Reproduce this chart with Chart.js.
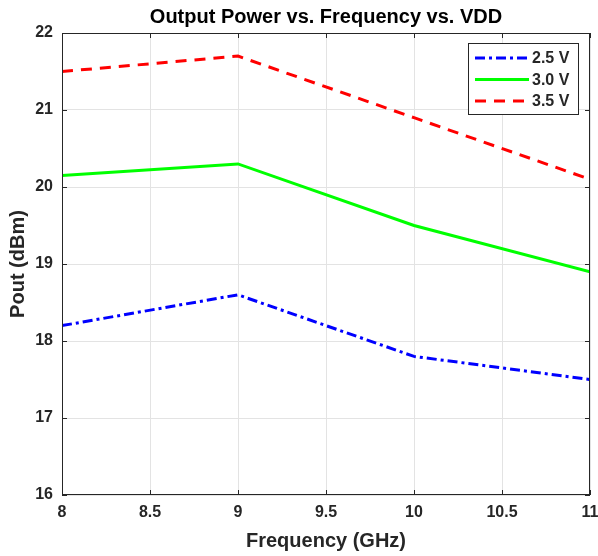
<!DOCTYPE html>
<html>
<head>
<meta charset="utf-8">
<script src="https://cdn.jsdelivr.net/npm/chart.js@4/dist/chart.umd.min.js"></script>
<style>
  html, body { margin: 0; padding: 0; background: #fff; }
  #wrap { width: 598px; height: 556px; }
</style>
</head>
<body>
<div id="wrap"><canvas id="pout"></canvas></div>
<script>
// values
var freqs = [8, 9, 10, 11];
var p25 = [18.2, 18.6, 17.8, 17.5];
var p30 = [20.15, 20.3, 19.5, 18.9];
var p35 = [21.5, 21.7, 20.9, 20.1];
var seriesLabels = ["2.5 V", "3.0 V", "3.5 V"];
var yTicks = [16, 17, 18, 19, 20, 21, 22];
var xTicks = [8, 8.5, 9, 9.5, 10, 10.5, 11];
var chartTitle = "Output Power vs. Frequency vs. VDD";

function pts(vals) {
    var out = [];
    for (var i = 0; i < freqs.length; i++) {
        out.push({x: freqs[i], y: vals[i]});
    }
    return out;
}

var FONT = "'Liberation Sans', Arial, Helvetica, sans-serif";
var txtCol = "#262626";

// title over the plot area, box, inward ticks and the legend, matlab style
var matlabBox = {
    id: "matlabBox",
    afterDraw: function(chart) {
        var ctx = chart.ctx;
        var a = chart.chartArea;
        var xs = chart.scales.x, ys = chart.scales.y;
        ctx.save();
        ctx.fillStyle = "#000";
        ctx.font = "bold 20px " + FONT;
        ctx.textAlign = "center";
        ctx.textBaseline = "middle";
        ctx.fillText(chartTitle, (a.left + a.right) / 2, 17);

        ctx.strokeStyle = "#262626";
        ctx.lineWidth = 1;
        ctx.setLineDash([]);
        ctx.strokeRect(a.left + 0.5, a.top + 0.5, a.right - a.left - 1, a.bottom - a.top - 1);
        ctx.beginPath();
        xTicks.forEach(function(v) {
            var px = Math.round(xs.getPixelForValue(v)) + 0.5;
            ctx.moveTo(px, a.bottom); ctx.lineTo(px, a.bottom - 5);
            ctx.moveTo(px, a.top); ctx.lineTo(px, a.top + 5);
        });
        yTicks.forEach(function(v) {
            var py = Math.round(ys.getPixelForValue(v)) + 0.5;
            ctx.moveTo(a.left, py); ctx.lineTo(a.left + 5, py);
            ctx.moveTo(a.right, py); ctx.lineTo(a.right - 5, py);
        });
        ctx.stroke();

        // legend
        var lx = 468, ly = 43, lw = 110, lh = 71;
        ctx.fillStyle = "#fff";
        ctx.fillRect(lx, ly, lw, lh);
        ctx.strokeStyle = "#262626";
        ctx.strokeRect(lx + 0.5, ly + 0.5, lw, lh);
        ctx.font = "bold 16px " + FONT;
        ctx.textBaseline = "middle";
        ctx.textAlign = "left";
        chart.data.datasets.forEach(function(ds, i) {
            var yy = ly + 15 + i * 21.5;
            ctx.strokeStyle = ds.borderColor;
            ctx.lineWidth = ds.borderWidth;
            ctx.setLineDash(ds.borderDash || []);
            ctx.beginPath();
            ctx.moveTo(lx + 7, yy);
            ctx.lineTo(lx + 61, yy);
            ctx.stroke();
            ctx.setLineDash([]);
            ctx.fillStyle = txtCol;
            ctx.fillText(ds.label, lx + 64, yy + 1);
        });
        ctx.restore();
    }
};

new Chart(document.getElementById("pout"), {
    type: "line",
    data: {
        datasets: [{
            label: seriesLabels[0],
            data: pts(p25),
            borderColor: "#0000ff",
            borderWidth: 3,
            borderDash: [10, 4, 3, 4]
        }, {
            label: seriesLabels[1],
            data: pts(p30),
            borderColor: "#00ff00",
            borderWidth: 3,
            borderDash: []
        }, {
            label: seriesLabels[2],
            data: pts(p35),
            borderColor: "#ff0000",
            borderWidth: 3,
            borderDash: [11, 8]
        }]
    },
    options: {
        responsive: true,
        maintainAspectRatio: false,
        animation: false,
        layout: { padding: { left: 0, right: 0, top: 33, bottom: 0 } },
        elements: { point: { radius: 0 }, line: { tension: 0 } },
        plugins: {
            legend: { display: false },
            tooltip: { enabled: false },
            title: { display: false }
        },
        scales: {
            x: {
                type: "linear",
                min: 8, max: 11,
                afterBuildTicks: function(s) { s.ticks = xTicks.map(function(v) { return {value: v}; }); },
                afterFit: function(s) { s.height = 61; s.paddingRight = 8; s.paddingLeft = 0; },
                grid: { color: "#e3e3e3", drawTicks: false },
                border: { display: false },
                ticks: { color: txtCol, padding: 8, maxRotation: 0,
                         callback: function(v) { return String(v); },
                         font: { family: FONT, size: 16, weight: "bold" } },
                title: { display: true, text: "Frequency (GHz)", color: txtCol,
                         font: { family: FONT, size: 20, weight: "bold" },
                         padding: { top: 0, bottom: 3 } }
            },
            y: {
                min: 16, max: 22,
                afterBuildTicks: function(s) { s.ticks = yTicks.map(function(v) { return {value: v}; }); },
                afterFit: function(s) { s.width = 62; },
                grid: { color: "#e3e3e3", drawTicks: false },
                border: { display: false },
                ticks: { color: txtCol, padding: 9,
                         callback: function(v) { return String(v); },
                         font: { family: FONT, size: 16, weight: "bold" } },
                title: { display: true, text: "Pout (dBm)", color: txtCol,
                         font: { family: FONT, size: 20, weight: "bold" },
                         padding: { top: 6, bottom: 0 } }
            }
        }
    },
    plugins: [matlabBox]
});
</script>
</body>
</html>
